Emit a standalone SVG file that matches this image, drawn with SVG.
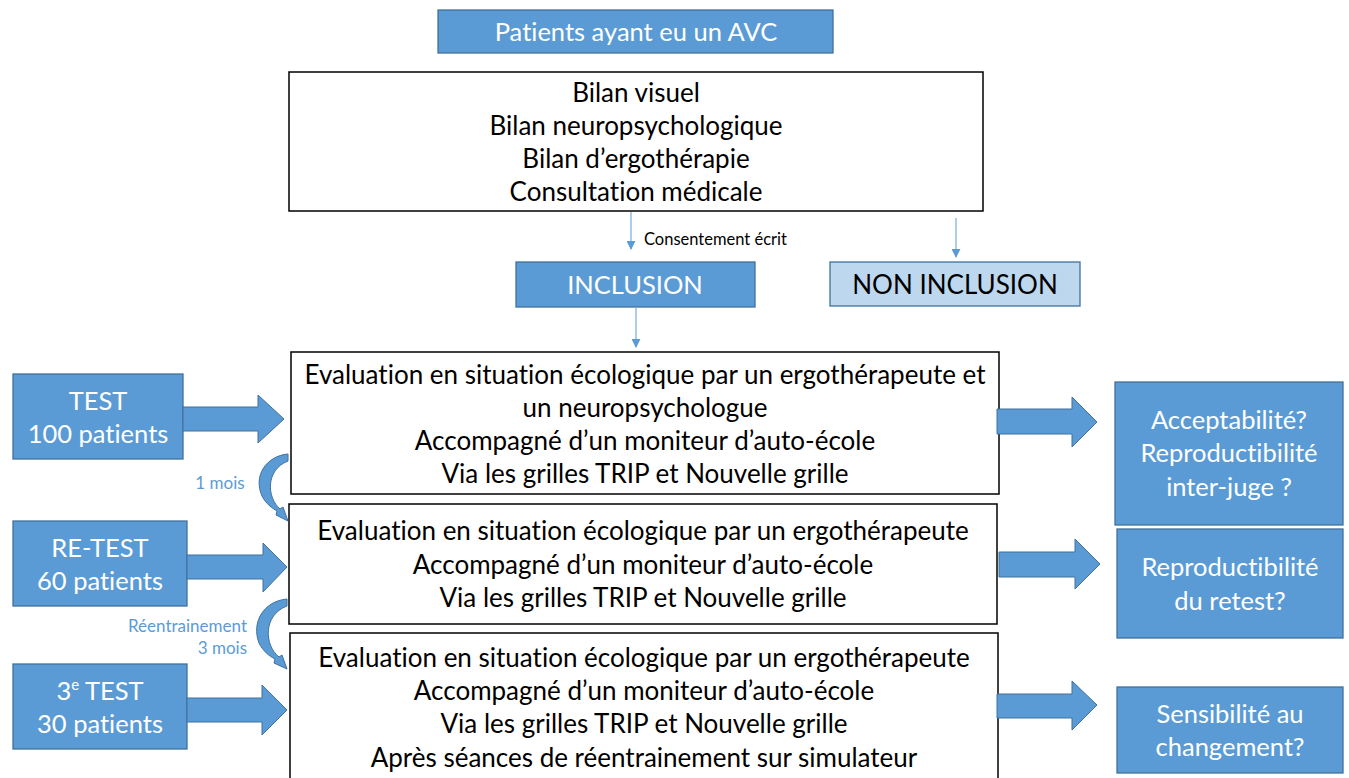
<svg xmlns="http://www.w3.org/2000/svg" width="1349" height="778" viewBox="0 0 1349 778">
<defs>
<style>
.blue{fill:#5B9BD5;stroke:#41719C;stroke-width:1.3}
.light{fill:#BDD7EE;stroke:#41719C;stroke-width:1.3}
.white{fill:#FFFFFF;stroke:#000000;stroke-width:1.5}
text{font-family:Lato,"Open Sans","Liberation Sans",sans-serif;text-anchor:middle;font-variant-ligatures:none;font-feature-settings:"liga" 0,"dlig" 0}
.wt{fill:#FFFFFF;font-size:25.5px}
.bt{fill:#000000;font-size:26px}
.lbl{fill:#5B9BD5;font-size:17px}
.conn{stroke:#5B9BD5;stroke-width:1;fill:none}
.barrow{fill:#5B9BD5;stroke:#41719C;stroke-width:1}
</style>
<marker id="ah" viewBox="0 0 10 10" refX="9" refY="5" markerWidth="9" markerHeight="9" markerUnits="userSpaceOnUse" orient="auto">
<path d="M0,0 L10,5 L0,10 Z" fill="#5B9BD5"/>
</marker>
</defs>
<rect width="1349" height="778" fill="#FFFFFF"/>

<g id="patients">
<rect class="blue" x="438" y="10" width="395" height="43"/>
<text class="wt" x="636" y="41">Patients ayant eu un AVC</text>
</g>

<g id="bilans">
<rect class="white" x="289" y="72" width="694" height="139"/>
<text class="bt" x="636" y="102">Bilan visuel</text>
<text class="bt" x="636" y="135">Bilan neuropsychologique</text>
<text class="bt" x="636" y="168">Bilan d’ergothérapie</text>
<text class="bt" x="636" y="201">Consultation médicale</text>
</g>

<g id="inclusion">
<rect class="blue" x="516" y="262" width="239" height="45"/>
<text class="wt" x="635" y="294">INCLUSION</text>
</g>

<g id="non-inclusion">
<rect class="light" x="830" y="262" width="250" height="44"/>
<text class="bt" x="955" y="294">NON INCLUSION</text>
</g>

<g id="eval1">
<rect class="white" x="291" y="352" width="708" height="142"/>
<text class="bt" x="645" y="384">Evaluation en situation écologique par un ergothérapeute et</text>
<text class="bt" x="645" y="417">un neuropsychologue</text>
<text class="bt" x="645" y="450">Accompagné d’un moniteur d’auto-école</text>
<text class="bt" x="645" y="483">Via les grilles TRIP et Nouvelle grille</text>
</g>

<g id="eval2">
<rect class="white" x="289" y="504" width="708" height="120"/>
<text class="bt" x="643" y="540">Evaluation en situation écologique par un ergothérapeute</text>
<text class="bt" x="643" y="574">Accompagné d’un moniteur d’auto-école</text>
<text class="bt" x="643" y="607">Via les grilles TRIP et Nouvelle grille</text>
</g>

<g id="eval3">
<rect class="white" x="290" y="633" width="708" height="150"/>
<text class="bt" x="644" y="667">Evaluation en situation écologique par un ergothérapeute</text>
<text class="bt" x="644" y="700">Accompagné d’un moniteur d’auto-école</text>
<text class="bt" x="644" y="733">Via les grilles TRIP et Nouvelle grille</text>
<text class="bt" x="644" y="767">Après séances de réentrainement sur simulateur</text>
</g>

<g id="test">
<rect class="blue" x="13" y="374" width="170" height="85"/>
<text class="wt" x="98" y="410">TEST</text>
<text class="wt" x="98" y="443">100 patients</text>
</g>

<g id="retest">
<rect class="blue" x="13" y="521" width="174" height="85"/>
<text class="wt" x="100" y="557">RE-TEST</text>
<text class="wt" x="100" y="590">60 patients</text>
</g>

<g id="test3">
<rect class="blue" x="13" y="664" width="174" height="85"/>
<text class="wt" x="100" y="700">3<tspan font-size="15" dy="-10">e</tspan><tspan dy="10"> TEST</tspan></text>
<text class="wt" x="100" y="733">30 patients</text>
</g>

<g id="acceptabilite">
<rect class="blue" x="1115" y="382" width="228" height="143"/>
<text class="wt" x="1229" y="429">Acceptabilité?</text>
<text class="wt" x="1229" y="462">Reproductibilité</text>
<text class="wt" x="1229" y="496">inter-juge ?</text>
</g>

<g id="retest-result">
<rect class="blue" x="1117" y="529" width="226" height="109"/>
<text class="wt" x="1230" y="576">Reproductibilité</text>
<text class="wt" x="1230" y="610">du retest?</text>
</g>

<g id="sensibilite">
<rect class="blue" x="1117" y="687" width="226" height="86"/>
<text class="wt" x="1230" y="723">Sensibilité au</text>
<text class="wt" x="1230" y="756">changement?</text>
</g>

<g id="connectors">
<line class="conn" x1="631" y1="212" x2="631" y2="249" marker-end="url(#ah)"/>
<text x="644" y="245" style="font-size:16.5px;fill:#000;text-anchor:start">Consentement écrit</text>
<line class="conn" x1="956" y1="218" x2="956" y2="257" marker-end="url(#ah)"/>
<line class="conn" x1="636" y1="308" x2="636" y2="347" marker-end="url(#ah)"/>

<path class="barrow" d="M183,407 L258,407 L258,395 L284,419 L258,443 L258,431 L183,431 Z"/>
<path class="barrow" d="M187,555 L263,555 L263,543 L287,567 L263,592 L263,579 L187,579 Z"/>
<path class="barrow" d="M187,698 L262,698 L262,685 L287,710 L262,735 L262,722 L187,722 Z"/>

<path class="barrow" d="M997,409 L1072,409 L1072,397 L1097,422 L1072,447 L1072,434 L997,434 Z"/>
<path class="barrow" d="M999,552 L1075,552 L1075,539 L1100,564 L1075,589 L1075,577 L999,577 Z"/>
<path class="barrow" d="M997,694 L1072,694 L1072,681 L1097,705 L1072,730 L1072,718 L997,718 Z"/>

<path class="barrow" d="M288,454 C266,456 253,476 262,496 C266,504 272,508 277,511 L276,515 L288,521 L283,507 L280,509 C267,498 265,470 288,461 Z"/>
<text class="lbl" x="220" y="489">1 mois</text>

<path class="barrow" d="M287,599 C264,601 251,622 259,643 C263,651 269,656 275,659 L274,663 L287,669 L282,655 L279,657 C264,645 263,615 287,606 Z"/>
<text class="lbl" x="247" y="632" style="text-anchor:end">Réentrainement</text>
<text class="lbl" x="247" y="654" style="text-anchor:end">3 mois</text>
</g>
</svg>
